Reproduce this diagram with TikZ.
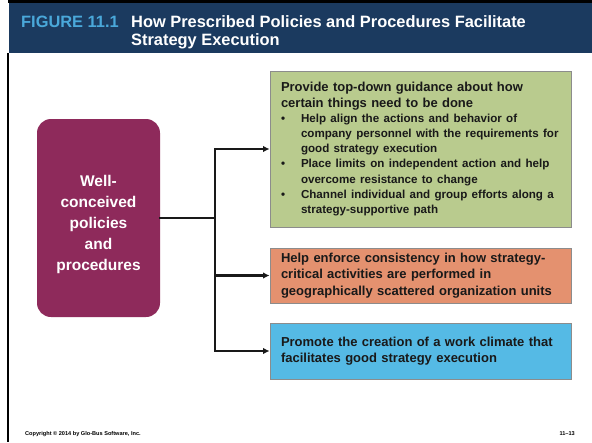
\documentclass[tikz,border=0pt]{standalone}
\usepackage{fontspec}
\setmainfont{Liberation Sans}
\usetikzlibrary{arrows.meta,positioning}

\definecolor{bannerblue}{HTML}{1B3A5F}
\definecolor{figblue}{HTML}{4AA8DA}
\definecolor{polpurple}{HTML}{8E2A5B}
\definecolor{guidegreen}{HTML}{B9CB8E}
\definecolor{enforceorange}{HTML}{E4916F}
\definecolor{climateblue}{HTML}{55BAE5}

\newcommand\bulpt{\makebox[20pt][l]{\textbullet}}
\newcommand\bulind{\hspace*{20pt}}

\begin{document}
\begin{tikzpicture}[
  x=1pt,y=-1pt,
  wire/.style={line width=2.2pt,black!90,line cap=rect},
  arr/.style={line width=2.2pt,black!90,-{Latex[length=6.5pt,width=6.5pt]}},
  titletxt/.style={anchor=base west,inner sep=0pt,font=\fontsize{16.4}{19}\selectfont\bfseries},
  foot/.style={inner sep=0pt,font=\fontsize{5.6}{6}\selectfont\bfseries},
  polbox/.style={rounded corners=14pt,fill=polpurple,text=white,align=center,
                 minimum width=123pt,minimum height=198pt,inner sep=0pt,
                 font=\fontsize{15.5}{21}\selectfont\bfseries},
  effbox/.style={draw=black!45,line width=0.8pt,minimum width=301pt,text width=279pt,
                 inner xsep=11pt,inner ysep=0pt,align=left,text=black!90,
                 font=\fontsize{13}{16.2}\selectfont\bfseries}
]
\useasboundingbox (0,0) rectangle (592,442);

% banner and frame
\fill[black] (8,0) rectangle (592,3);
\fill[bannerblue] (9,3) rectangle (592,53);
\draw[line width=2pt] (8,53) -- (8,442);
\node[titletxt,text=figblue] (fignum) at (21,27) {FIGURE 11.1};
\node[titletxt,text=white] (title1) at (131,27) {How Prescribed Policies and Procedures Facilitate};
\node[titletxt,text=white] (title2) at (131,45) {Strategy Execution};

% source box
\node[polbox] (policy) at (98.5,218) {\rule{0pt}{25pt}Well-\\conceived\\policies\\and\\procedures};

% effect boxes
\node[effbox,fill=guidegreen,minimum height=156pt] (guide) at (420.5,149)
  {Provide top-down guidance about how\\certain things need to be done\\[-0.5pt]
   \fontsize{11.6}{15.2}\selectfont
   \bulpt Help align the actions and behavior of\\
   \bulind company personnel with the requirements for\\
   \bulind good strategy execution\\
   \bulpt Place limits on independent action and help\\
   \bulind overcome resistance to change\\
   \bulpt Channel individual and group efforts along a\\
   \bulind strategy-supportive path\par};
\node[effbox,fill=enforceorange,minimum height=55pt] (enforce) at (420.5,275.5)
  {Help enforce consistency in how strategy-\\critical activities are performed in\\geographically scattered organization units};
\node[effbox,fill=climateblue,minimum height=56pt] (climate) at (420.5,351)
  {Promote the creation of a work climate that\\facilitates good strategy execution};

% connectors
\coordinate (fork) at (215,218);
\draw[wire] (policy) -- (fork);
\draw[wire] (fork |- guide.west) -- (fork |- climate.west);
\foreach \b in {guide,enforce,climate}
  \draw[arr] (fork |- \b.west) -- (\b.west);

% footer
\node[foot,anchor=base west] (copy) at (25,435) {Copyright © 2014 by Glo-Bus Software, Inc.};
\node[foot,anchor=base east] (slideno) at (575,435) {11--13};
\end{tikzpicture}
\end{document}
